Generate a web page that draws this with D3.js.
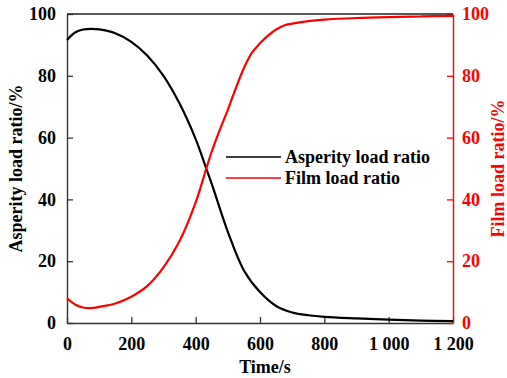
<!DOCTYPE html>
<html>
<head>
<meta charset="utf-8">
<script src="https://cdn.jsdelivr.net/npm/d3@7"></script>
<style>
  body { margin: 0; background: #fff; }
  svg text { font-family: "Liberation Serif", "Times New Roman", serif; font-weight: 700; }
</style>
</head>
<body>
<div id="chart"></div>
<script>
// time points (s) and the two load ratios (%)
const timeAsperity = [0, 25, 50, 75, 100, 150, 200, 250, 300, 350, 400, 433, 450, 500, 550, 600, 650, 700, 750, 800, 900, 1000, 1100, 1200];
const asperityRatio = [91.6, 94, 95, 95.2, 95, 93.8, 91, 86.5, 80, 71, 59.5, 50, 45, 29.5, 17, 10, 5.5, 3.4, 2.5, 2.0, 1.5, 1.1, 0.8, 0.6];

const timeFilm = [0, 25, 50, 75, 100, 150, 200, 250, 300, 350, 400, 433, 450, 475, 500, 525, 550, 575, 600, 625, 650, 675, 700, 750, 800, 900, 1000, 1100, 1200];
const filmRatio = [8, 6, 5, 4.8, 5.2, 6.3, 8.5, 12, 18, 26.5, 39, 50, 55.5, 62.5, 69, 76, 82.5, 87.5, 90.5, 93, 95, 96.3, 96.9, 97.7, 98.2, 98.7, 99, 99.2, 99.4];

const xTicks = [0, 200, 400, 600, 800, 1000, 1200];
const yTicks = [0, 20, 40, 60, 80, 100];

const width = 507, height = 378;
const margin = { top: 14, right: 54, bottom: 55, left: 67 };
const innerWidth = width - margin.left - margin.right;
const innerHeight = height - margin.top - margin.bottom;

const svg = d3.select("#chart")
    .append("svg")
    .attr("width", width)
    .attr("height", height);

const g = svg.append("g")
    .attr("transform", `translate(${margin.left},${margin.top})`);

// Scales
const x = d3.scaleLinear().domain([0, 1200]).range([0, innerWidth]);
const yL = d3.scaleLinear().domain([0, 100]).range([innerHeight, 0]);
const yR = d3.scaleLinear().domain([0, 100]).range([innerHeight, 0]);

const fmtX = d => d >= 1000 ? d3.format(",")(d).replace(",", " ") : String(d);

// Bottom axis, ticks inward
const xAxis = g.append("g")
    .attr("transform", `translate(0,${innerHeight})`)
    .call(d3.axisBottom(x).tickValues(xTicks).tickFormat(fmtX).tickSizeInner(-6).tickSizeOuter(0).tickPadding(14));

// Left axis
const yAxisL = g.append("g")
    .call(d3.axisLeft(yL).tickValues(yTicks).tickSizeInner(-6).tickSizeOuter(0).tickPadding(11));

// Right axis (red)
const yAxisR = g.append("g")
    .attr("transform", `translate(${innerWidth},0)`)
    .call(d3.axisRight(yR).tickValues(yTicks).tickSizeInner(-6).tickSizeOuter(0).tickPadding(9));

[xAxis, yAxisL, yAxisR].forEach(a => a.attr("font-family", null).attr("font-size", 18));

[xAxis, yAxisL].forEach(a => {
    a.select(".domain").attr("stroke", "#333").attr("stroke-width", 1.4);
    a.selectAll(".tick line").attr("stroke", "#333").attr("stroke-width", 1.3);
    a.selectAll("text").attr("fill", "#000");
});
yAxisR.select(".domain").attr("stroke", "#ff0000").attr("stroke-width", 1.4);
yAxisR.selectAll(".tick line").attr("stroke", "#ff0000").attr("stroke-width", 1.3);
yAxisR.selectAll("text").attr("fill", "#ff0000");

// Top frame
g.append("line")
    .attr("x1", 0).attr("x2", innerWidth)
    .attr("y1", 0).attr("y2", 0)
    .attr("stroke", "#222")
    .attr("stroke-width", 1.4);

// Curves
const lineA = d3.line()
    .x((d, i) => x(timeAsperity[i]))
    .y(d => yL(d))
    .curve(d3.curveCatmullRom.alpha(0.5));

const lineF = d3.line()
    .x((d, i) => x(timeFilm[i]))
    .y(d => yR(d))
    .curve(d3.curveCatmullRom.alpha(0.5));

g.append("path")
    .datum(asperityRatio)
    .attr("d", lineA)
    .attr("fill", "none")
    .attr("stroke", "#000")
    .attr("stroke-width", 2.2);

g.append("path")
    .datum(filmRatio)
    .attr("d", lineF)
    .attr("fill", "none")
    .attr("stroke", "#ff0000")
    .attr("stroke-width", 2.2);

// Legend
const legend = g.append("g")
    .attr("transform", `translate(${226 - margin.left},${157 - margin.top})`);

const legendItems = [
    { label: "Asperity load ratio", color: "#000" },
    { label: "Film load ratio", color: "#ff0000" }
];

legendItems.forEach((item, i) => {
    legend.append("line")
        .attr("x1", 0).attr("x2", 55)
        .attr("y1", i * 21).attr("y2", i * 21)
        .attr("stroke", item.color)
        .attr("stroke-width", 1.6);
    legend.append("text")
        .attr("x", 59)
        .attr("y", i * 21 + 6)
        .attr("font-size", 18)
        .attr("fill", "#000")
        .text(item.label);
});

// Axis titles
svg.append("text")
    .attr("x", 265)
    .attr("y", 373)
    .attr("text-anchor", "middle")
    .attr("font-size", 18)
    .attr("fill", "#000")
    .text("Time/s");

svg.append("text")
    .attr("transform", `translate(22,${margin.top + innerHeight / 2}) rotate(-90)`)
    .attr("text-anchor", "middle")
    .attr("font-size", 18)
    .attr("fill", "#000")
    .text("Asperity load ratio/%");

svg.append("text")
    .attr("transform", `translate(504,${margin.top + innerHeight / 2}) rotate(-90)`)
    .attr("text-anchor", "middle")
    .attr("font-size", 18)
    .attr("fill", "#ff0000")
    .text("Film load ratio/%");
</script>
</body>
</html>
